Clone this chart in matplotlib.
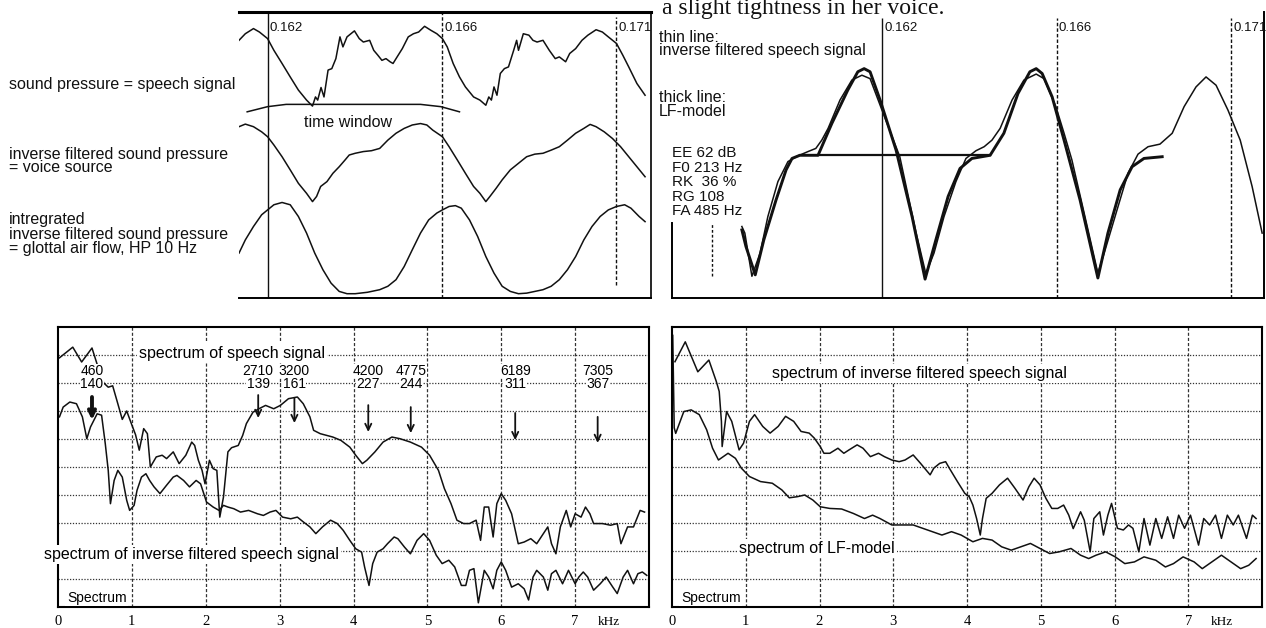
import matplotlib
matplotlib.use("Agg")
import matplotlib.pyplot as plt

# ---------------------------------------------------------------- data
# time markers (ms) and labels
period_marks = [161.7, 166.4, 171.1]
period_labels = ["0.162", "0.166", "0.171"]

# top-left: waveforms (time in ms, amplitude in arbitrary 0-100 units)
t_speech = [160.93, 161.10, 161.32, 161.48, 161.70, 161.87, 162.09, 162.31, 162.53, 162.75,
            162.91, 162.99, 163.05, 163.14, 163.22, 163.33, 163.43, 163.54, 163.65, 163.73,
            163.84, 164.04, 164.17, 164.28, 164.45, 164.56, 164.67, 164.78, 164.89, 165.00,
            165.08, 165.19, 165.33, 165.49, 165.63, 165.77, 165.93, 166.10, 166.26, 166.41,
            166.54, 166.70, 166.87, 167.03, 167.25, 167.42, 167.58, 167.66, 167.73, 167.80,
            167.88, 167.97, 168.08, 168.19, 168.33, 168.41, 168.46, 168.59, 168.74, 168.85,
            168.96, 169.12, 169.29, 169.45, 169.56, 169.73, 169.84, 170.00, 170.17, 170.33,
            170.55, 170.72, 170.88, 171.10, 171.27, 171.43, 171.65, 171.87]
a_speech = [90.1, 92.4, 94.2, 93.0, 90.7, 86.6, 82.0, 77.3, 72.7, 69.2,
            67.1, 70.3, 69.2, 73.6, 70.3, 79.7, 80.2, 83.7, 91.3, 87.8,
            91.3, 93.4, 90.7, 89.5, 90.1, 86.6, 84.9, 83.1, 83.7, 82.6,
            82.0, 84.3, 87.2, 91.3, 92.4, 93.0, 95.0, 93.6, 92.4, 90.7,
            87.8, 82.0, 77.3, 73.8, 70.3, 69.2, 67.4, 70.3, 69.2, 73.8,
            70.9, 78.5, 80.2, 80.8, 86.6, 90.1, 86.6, 92.4, 91.9, 90.1,
            89.5, 90.1, 86.6, 83.7, 84.3, 82.6, 85.5, 87.2, 90.1, 91.9,
            93.8, 93.0, 91.3, 89.0, 84.9, 80.8, 75.0, 70.9]

t_window = [161.15, 161.70, 162.20, 165.82, 166.37, 166.87]
a_window = [65.1, 66.9, 67.7, 67.7, 66.9, 65.1]

t_source = [160.93, 161.10, 161.32, 161.54, 161.70, 161.87, 162.09, 162.31, 162.53, 162.75,
            162.91, 163.02, 163.13, 163.30, 163.46, 163.63, 163.79, 163.90, 164.06, 164.28,
            164.50, 164.72, 164.94, 165.16, 165.38, 165.60, 165.82, 165.99, 166.15, 166.41,
            166.59, 166.81, 167.03, 167.25, 167.42, 167.58, 167.69, 167.86, 168.02, 168.24,
            168.46, 168.68, 168.90, 169.12, 169.34, 169.56, 169.78, 170.00, 170.22, 170.39,
            170.55, 170.77, 170.99, 171.21, 171.43, 171.65, 171.87]
a_source = [59.9, 60.8, 59.9, 58.1, 56.4, 53.5, 49.4, 44.8, 40.1, 36.6,
            33.7, 35.5, 39.0, 40.7, 43.6, 45.9, 48.3, 50.0, 50.6, 51.2,
            51.5, 52.3, 55.2, 57.6, 59.3, 60.5, 61.0, 60.5, 58.7, 56.4,
            52.9, 48.3, 43.6, 39.0, 36.6, 33.7, 35.5, 38.4, 41.3, 44.8,
            47.1, 49.4, 50.3, 50.6, 51.7, 52.9, 55.2, 57.6, 59.3, 60.7,
            59.9, 58.1, 55.8, 52.9, 49.4, 45.9, 42.4]

t_flow = [160.93, 161.10, 161.32, 161.54, 161.70, 161.87, 162.09, 162.31, 162.53, 162.75,
          162.97, 163.19, 163.41, 163.63, 163.84, 164.06, 164.39, 164.72, 164.94, 165.16,
          165.38, 165.60, 165.82, 166.04, 166.26, 166.41, 166.59, 166.76, 166.92, 167.14,
          167.36, 167.58, 167.80, 168.02, 168.24, 168.46, 168.68, 168.90, 169.12, 169.34,
          169.56, 169.78, 170.00, 170.22, 170.44, 170.66, 170.88, 171.10, 171.32, 171.49,
          171.71, 171.87]
a_flow = [15.7, 20.3, 25.0, 29.1, 30.8, 32.6, 33.4, 32.6, 28.5, 22.7,
          15.7, 9.9, 5.2, 2.3, 1.5, 1.5, 2.0, 2.9, 4.1, 6.4,
          11.0, 16.9, 22.7, 27.3, 29.7, 30.8, 32.0, 32.3, 31.4, 27.3,
          21.5, 14.5, 8.7, 4.1, 2.3, 1.5, 1.7, 2.3, 2.9, 4.1,
          6.4, 9.9, 14.5, 20.3, 25.0, 28.5, 30.8, 32.0, 32.6, 31.4,
          28.5, 26.7]

# top-right: inverse filtered signal (thin) and LF-model (thick)
t_inv = [157.93, 158.01, 158.20, 158.42, 158.63, 158.90, 159.17, 159.44, 159.71, 159.92,
         160.08, 160.25, 160.57, 160.89, 161.16, 161.38, 161.70, 162.18, 162.62, 162.88,
         163.10, 163.37, 163.69, 163.96, 164.23, 164.45, 164.66, 164.88, 165.20, 165.52,
         165.85, 166.06, 166.38, 166.60, 166.81, 167.14, 167.51, 167.68, 168.00, 168.32,
         168.59, 168.86, 169.18, 169.51, 169.83, 170.15, 170.42, 170.69, 171.01, 171.34,
         171.66, 171.93]
a_inv = [25.0, 22.7, 7.6, 15.7, 28.5, 40.7, 47.7, 49.7, 51.2, 52.3,
         55.2, 59.3, 69.2, 76.2, 77.9, 76.7, 65.7, 49.4, 22.7, 8.5,
         15.7, 28.5, 40.7, 48.8, 51.5, 52.9, 55.2, 59.3, 69.2, 76.2,
         78.3, 76.7, 66.9, 57.6, 48.3, 29.7, 8.7, 15.7, 29.7, 43.6,
         50.3, 52.9, 53.8, 57.6, 66.9, 73.8, 77.3, 74.4, 65.7, 55.2,
         39.0, 22.7]

t_lf = [157.93, 158.04, 158.29, 158.52, 158.85, 159.12, 159.28, 159.49, 159.98, 160.35,
        160.78, 161.05, 161.22, 161.38, 161.65, 162.08, 162.51, 162.86, 163.15, 163.48,
        163.80, 164.12, 164.61, 164.98, 165.36, 165.68, 165.85, 166.01, 166.28, 166.60,
        167.03, 167.51, 167.78, 168.11, 168.43, 168.75, 169.24]
a_lf = [23.8, 18.0, 8.1, 20.3, 34.3, 44.8, 48.8, 49.9, 49.9, 61.0,
        72.7, 79.1, 80.2, 79.1, 69.2, 51.7, 28.5, 6.6, 20.3, 35.5,
        45.3, 48.8, 49.9, 57.6, 71.5, 79.1, 80.2, 78.5, 70.3, 55.2,
        34.3, 7.0, 22.7, 37.8, 45.9, 48.8, 49.4]
t_lf_base = [159.98, 164.61]
a_lf_base = [49.9, 49.9]

lf_params = ["EE 62 dB", "F0 213 Hz", "RK  36 %", "RG 108", "FA 485 Hz"]

# bottom: spectra (frequency in kHz, level in grid units)
khz_ticks = [0, 1, 2, 3, 4, 5, 6, 7]
khz_labels = ["0", "1", "2", "3", "4", "5", "6", "7"]
grid_levels = [1, 2, 3, 4, 5, 6, 7, 8, 9]

f_speech = [0.02, 0.2, 0.32, 0.46, 0.55, 0.62, 0.68, 0.74, 0.8, 0.87, 0.93, 1.0, 1.05, 1.1,
            1.16, 1.21, 1.25, 1.33, 1.41, 1.47, 1.56, 1.64, 1.73, 1.81, 1.85, 1.9, 1.95, 1.99,
            2.05, 2.1, 2.15, 2.19, 2.24, 2.3, 2.35, 2.44, 2.5, 2.55, 2.64, 2.72, 2.81, 2.92,
            3.01, 3.12, 3.24, 3.32, 3.41, 3.46, 3.55, 3.72, 3.83, 3.95, 4.03, 4.12, 4.18, 4.29,
            4.4, 4.52, 4.63, 4.77, 4.92, 5.03, 5.15, 5.23, 5.32, 5.4, 5.49, 5.57, 5.66, 5.72,
            5.77, 5.83, 5.89, 5.94, 6.0, 6.06, 6.14, 6.23, 6.31, 6.4, 6.48, 6.57, 6.63, 6.68,
            6.74, 6.8, 6.88, 6.94, 7.0, 7.08, 7.14, 7.2, 7.25, 7.37, 7.48, 7.57, 7.62, 7.71,
            7.79, 7.88, 7.94]
l_speech = [8.9, 9.28, 8.75, 9.25, 8.5, 8.0, 7.85, 7.9, 7.35, 6.7, 7.0, 6.5, 6.15, 5.6,
            6.37, 6.19, 5.0, 5.36, 5.42, 5.3, 5.54, 5.12, 5.42, 5.89, 5.77, 5.24, 4.88, 4.4,
            5.24, 4.94, 4.88, 3.21, 3.93, 5.54, 5.69, 5.77, 6.13, 6.55, 6.96, 7.08, 7.2, 7.08,
            7.2, 7.44, 7.5, 7.26, 6.79, 6.31, 6.19, 6.07, 5.95, 5.71, 5.42, 5.12, 5.24, 5.54,
            5.89, 6.07, 6.01, 5.89, 5.71, 5.42, 4.88, 4.23, 3.69, 3.1, 2.98, 2.98, 3.1, 2.38,
            3.57, 3.57, 2.5, 3.69, 4.05, 3.81, 3.33, 2.26, 2.32, 2.44, 2.26, 2.62, 2.86, 2.26,
            1.9, 2.86, 3.45, 2.86, 3.33, 3.21, 3.57, 3.33, 2.98, 2.98, 2.92, 2.98, 2.26, 2.86,
            2.86, 3.45, 3.39]

f_invspec = [0.02, 0.07, 0.16, 0.25, 0.33, 0.39, 0.44, 0.53, 0.59, 0.64, 0.68, 0.71, 0.76,
             0.81, 0.87, 0.93, 0.97, 1.03, 1.07, 1.13, 1.19, 1.24, 1.3, 1.38, 1.47, 1.56,
             1.61, 1.7, 1.78, 1.87, 1.93, 2.01, 2.1, 2.18, 2.24, 2.3, 2.38, 2.47, 2.58, 2.7,
             2.78, 2.87, 2.95, 3.04, 3.15, 3.24, 3.32, 3.41, 3.49, 3.58, 3.69, 3.78, 3.86,
             3.95, 4.03, 4.11, 4.15, 4.21, 4.26, 4.32, 4.4, 4.46, 4.55, 4.6, 4.69, 4.77, 4.86,
             4.95, 5.03, 5.12, 5.2, 5.29, 5.37, 5.46, 5.52, 5.57, 5.63, 5.69, 5.77, 5.83,
             5.89, 5.94, 6.0, 6.06, 6.14, 6.23, 6.31, 6.37, 6.43, 6.48, 6.57, 6.63, 6.68,
             6.74, 6.83, 6.91, 7.0, 7.05, 7.11, 7.17, 7.25, 7.34, 7.42, 7.51, 7.57, 7.65,
             7.71, 7.79, 7.85, 7.91, 7.97]
l_invspec = [6.79, 7.14, 7.32, 7.26, 6.79, 6.01, 6.43, 6.9, 6.85, 5.83, 4.88, 3.69, 4.52,
             4.88, 4.64, 3.81, 3.45, 3.63, 4.17, 4.64, 4.76, 4.52, 4.29, 4.05, 4.35, 4.64,
             4.7, 4.52, 4.29, 4.52, 4.4, 3.75, 3.57, 3.45, 3.63, 3.57, 3.51, 3.39, 3.45, 3.33,
             3.27, 3.39, 3.45, 3.21, 3.15, 3.21, 3.04, 2.86, 2.62, 2.86, 3.1, 2.98, 2.74,
             2.38, 2.08, 1.96, 1.43, 0.77, 1.55, 1.96, 2.08, 2.26, 2.5, 2.44, 2.14, 1.9, 2.38,
             2.62, 2.38, 1.85, 1.55, 1.67, 1.43, 0.77, 0.77, 1.31, 1.37, 0.15, 1.31, 1.07,
             0.65, 1.31, 1.61, 1.31, 0.71, 0.83, 0.65, 0.25, 1.07, 1.31, 1.07, 0.6, 1.19,
             1.31, 0.83, 1.31, 0.83, 1.07, 1.25, 1.07, 0.6, 0.83, 1.07, 0.71, 0.48, 1.07,
             1.31, 0.83, 1.19, 1.25, 1.13]

f_inv_r = [0.04, 0.18, 0.35, 0.5, 0.6, 0.64, 0.67, 0.68, 0.74, 0.81, 0.91, 0.97, 1.05, 1.12,
           1.23, 1.33, 1.44, 1.54, 1.65, 1.75, 1.86, 1.93, 2.01, 2.06, 2.14, 2.25, 2.33, 2.4,
           2.51, 2.59, 2.69, 2.8, 2.88, 2.98, 3.08, 3.16, 3.27, 3.37, 3.5, 3.55, 3.63, 3.71,
           3.76, 3.87, 3.97, 4.03, 4.08, 4.13, 4.18, 4.21, 4.26, 4.34, 4.44, 4.55, 4.65,
           4.76, 4.84, 4.91, 4.99, 5.07, 5.15, 5.23, 5.31, 5.38, 5.44, 5.49, 5.54, 5.59,
           5.67, 5.72, 5.8, 5.85, 5.91, 5.96, 6.04, 6.12, 6.19, 6.25, 6.33, 6.4, 6.48, 6.56,
           6.64, 6.72, 6.8, 6.87, 6.95, 7.03, 7.14, 7.21, 7.29, 7.37, 7.45, 7.53, 7.61, 7.68,
           7.79, 7.87, 7.92]
l_inv_r = [8.76, 9.47, 8.4, 8.82, 8.06, 7.7, 6.63, 5.73, 6.98, 6.63, 5.61, 5.85, 6.63, 6.87,
           6.45, 6.21, 6.45, 6.81, 6.63, 6.27, 6.21, 6.03, 5.73, 5.49, 5.49, 5.67, 5.49, 5.61,
           5.79, 5.67, 5.37, 5.49, 5.37, 5.25, 5.19, 5.25, 5.43, 5.13, 4.72, 4.96, 5.13, 5.19,
           4.96, 4.48, 4.06, 3.94, 3.64, 3.16, 2.57, 3.16, 3.88, 4.06, 4.36, 4.6, 4.24,
           3.82, 4.3, 4.6, 4.36, 3.88, 3.52, 3.52, 3.64, 3.28, 2.8, 3.1, 3.4, 3.1,
           1.97, 3.16, 3.4, 2.57, 3.28, 3.7, 2.81, 2.75, 2.93, 2.81, 1.97, 3.16, 2.21, 3.16,
           2.45, 3.22, 2.45, 3.28, 2.81, 3.28, 2.21, 3.16, 2.93, 3.28, 2.45, 3.28, 2.93, 3.28,
           2.45, 3.28, 3.16]

f_lfspec = [0.01, 0.03, 0.05, 0.16, 0.26, 0.37, 0.47, 0.55, 0.63, 0.76, 0.86, 0.94, 1.05, 1.2,
            1.36, 1.49, 1.59, 1.7, 1.8, 1.91, 2.01, 2.14, 2.3, 2.46, 2.61, 2.72, 2.82, 2.98,
            3.11, 3.27, 3.4, 3.53, 3.66, 3.79, 3.92, 4.08, 4.21, 4.34, 4.47, 4.6, 4.73, 4.86,
            4.99, 5.12, 5.25, 5.41, 5.54, 5.65, 5.75, 5.88, 6.01, 6.14, 6.27, 6.4, 6.56, 6.69,
            6.8, 6.93, 7.08, 7.19, 7.32, 7.45, 7.58, 7.71, 7.82, 7.92]
l_lfspec = [9.7, 6.4, 6.2, 6.98, 7.04, 6.87, 6.33, 5.67, 5.25, 5.49, 5.31, 4.96, 4.66, 4.48,
            4.42, 4.18, 3.9, 3.94, 4.0, 3.82, 3.58, 3.52, 3.5, 3.34, 3.16, 3.28, 3.16, 2.93,
            2.93, 2.93, 2.81, 2.69, 2.57, 2.69, 2.57, 2.33, 2.45, 2.39, 2.15, 2.03, 2.15, 2.27,
            2.09, 1.91, 1.97, 2.09, 1.85, 1.73, 1.85, 1.97, 1.79, 1.55, 1.61, 1.79, 1.67, 1.43,
            1.55, 1.79, 1.61, 1.37, 1.61, 1.85, 1.61, 1.37, 1.49, 1.73]

formant_hz = [460, 2710, 3200, 4200, 4775, 6189, 7305]
bandwidth_hz = [140, 139, 161, 227, 244, 311, 367]
arrow_top = [7.5, 7.57, 7.46, 7.21, 7.14, 6.93, 6.79]
arrow_tip = [6.68, 6.75, 6.57, 6.25, 6.21, 5.96, 5.86]

# ---------------------------------------------------------------- figure
W, H = 1266, 628
SANS = "Liberation Sans"
SERIF = "Liberation Serif"
plt.rcParams["font.family"] = [SANS, "DejaVu Sans"]

fig = plt.figure(figsize=(W / 100, H / 100), dpi=100)


def px_axes(x0, y0, x1, y1):
    return fig.add_axes([x0 / W, 1 - y1 / H, (x1 - x0) / W, (y1 - y0) / H])


def ftext(px, py, s, **kw):
    fig.text(px / W, 1 - py / H, s, **kw)


LW = 1.1
INK = "#111111"

# header line of the page (sits at the very top)
ftext(662, 14, "a slight tightness in her voice.", family=SERIF, fontsize=17,
      va="baseline", ha="left", color=INK)

# ---------------------------------------------------------------- top-left
ax = px_axes(239, 12, 651, 298)
ax.set_xlim(160.93, 172.03)
ax.set_ylim(0, 100)
ax.set_xticks([]); ax.set_yticks([])
ax.spines["left"].set_visible(False)
ax.spines["top"].set_linewidth(2.2)
ax.spines["right"].set_linewidth(1.2)
ax.spines["bottom"].set_linewidth(1.4)
ax.plot(t_speech, a_speech, color=INK, lw=LW)
ax.plot(t_window, a_window, color=INK, lw=LW)
ax.plot(t_source, a_source, color=INK, lw=LW)
ax.plot(t_flow, a_flow, color=INK, lw=LW)
ax.vlines(period_marks[0], 0, 100, color=INK, lw=1.0)
ax.vlines(period_marks[1], 0, 100, color=INK, lw=1.0, linestyles=(0, (2.5, 1.5)))
ax.vlines(period_marks[2], 4.7, 98.3, color=INK, lw=1.0, linestyles=(0, (2.5, 1.5)))
for m, lab in zip(period_marks, period_labels):
    ax.text(m + 0.06, 94.5, lab, fontsize=9.5, va="center", ha="left", color=INK)
ax.text(162.68, 61.2, "time window", fontsize=11.5, va="center", ha="left", color=INK)

ftext(9, 85, "sound pressure = speech signal", fontsize=11.5, va="center", color=INK)
ftext(9, 154, "inverse filtered sound pressure", fontsize=11.5, va="center", color=INK)
ftext(9, 168, "= voice source", fontsize=11.5, va="center", color=INK)
ftext(9, 220, "intregrated", fontsize=11.5, va="center", color=INK)
ftext(9, 235, "inverse filtered sound pressure", fontsize=11.5, va="center", color=INK)
ftext(9, 249, "= glottal air flow, HP 10 Hz", fontsize=11.5, va="center", color=INK)

# ---------------------------------------------------------------- top-right
ax = px_axes(672, 12, 1264, 298)
ax.set_xlim(156.05, 171.98)
ax.set_ylim(0, 100)
ax.set_xticks([]); ax.set_yticks([])
ax.spines["top"].set_visible(False)
ax.spines["left"].set_bounds(0, 26.2)
for s in ("left", "right", "bottom"):
    ax.spines[s].set_linewidth(1.4)
ax.vlines(157.12, 7.6, 26.2, color=INK, lw=1.0, linestyles=(0, (2, 1.5)))
ax.vlines(period_marks[0], 0, 98, color=INK, lw=1.0)
ax.vlines(period_marks[1:], 0, 98, color=INK, lw=1.0, linestyles=(0, (2.5, 1.5)))
for m, lab in zip(period_marks, period_labels):
    ax.text(m + 0.06, 94.5, lab, fontsize=9.5, va="center", ha="left", color=INK)
ax.plot(t_inv, a_inv, color=INK, lw=1.1)
ax.plot(t_lf, a_lf, color=INK, lw=2.1)
ax.plot(t_lf_base, a_lf_base, color=INK, lw=1.6)

ftext(659, 37, "thin line:", fontsize=11.5, va="center", color=INK)
ftext(659, 51, "inverse filtered speech signal", fontsize=11.5, va="center", color=INK)
ftext(659, 98, "thick line:", fontsize=11.5, va="center", color=INK)
ftext(659, 112, "LF-model", fontsize=11.5, va="center", color=INK)
for i, s in enumerate(lf_params):
    ftext(672, 153 + 14.5 * i, s, fontsize=11, va="center", color=INK)


# ---------------------------------------------------------------- spectra
def spectrum_box(ax):
    ax.set_xlim(0, 8.0)
    ax.set_ylim(0, 10)
    for y in grid_levels:
        ax.axhline(y, color="#333333", lw=0.9, ls=(0, (1, 1.3)), zorder=1)
    for x in khz_ticks[1:]:
        ax.axvline(x, color="#333333", lw=0.9, ls=(0, (2.5, 1.6)), zorder=1)
    ax.set_yticks([])
    ax.set_xticks(khz_ticks)
    ax.set_xticklabels(khz_labels, family=SERIF, fontsize=10.5)
    ax.tick_params(axis="x", length=0, pad=6)
    for s in ax.spines.values():
        s.set_linewidth(1.5)
    ax.text(7.3, -0.55, "kHz", family=SERIF, fontsize=9.5, ha="left", va="center",
            clip_on=False)
    ax.text(0.12, 0.32, "Spectrum", fontsize=10, ha="left", va="center",
            bbox=dict(facecolor="white", edgecolor="none", pad=1))


WHITE = dict(facecolor="white", edgecolor="none", pad=1.5)

axl = px_axes(58, 327, 649, 607)
spectrum_box(axl)
axl.plot(f_speech, l_speech, color=INK, lw=LW, zorder=2)
axl.plot(f_invspec, l_invspec, color=INK, lw=LW, zorder=2)
axl.text(1.1, 9.07, "spectrum of speech signal", fontsize=11.5, va="center", ha="left",
         bbox=WHITE, zorder=4)
axl.text(-0.19, 1.86, "spectrum of inverse filtered speech signal", fontsize=11.5,
         va="center", ha="left", bbox=WHITE, zorder=4)
for i, (f, b, y0, y1) in enumerate(zip(formant_hz, bandwidth_hz, arrow_top, arrow_tip)):
    x = f / 1000.0
    axl.text(x, 8.43, str(f), fontsize=10, ha="center", va="center",
             bbox=dict(facecolor="white", edgecolor="none", pad=0.3), zorder=4)
    axl.text(x, 7.98, str(b), fontsize=10, ha="center", va="center",
             bbox=dict(facecolor="white", edgecolor="none", pad=0.3), zorder=4)
    lw = 2.8 if i == 0 else 1.3
    axl.annotate("", xy=(x, y1), xytext=(x, y0),
                 arrowprops=dict(arrowstyle="->,head_length=0.45,head_width=0.22",
                                 lw=lw, color=INK, shrinkA=0, shrinkB=0), zorder=5)

axr = px_axes(672, 327, 1262, 607)
spectrum_box(axr)
axr.plot(f_inv_r, l_inv_r, color=INK, lw=LW, zorder=2)
axr.plot(f_lfspec, l_lfspec, color=INK, lw=LW, zorder=2)
axr.text(1.36, 8.35, "spectrum of inverse filtered speech signal", fontsize=11.5,
         va="center", ha="left", bbox=WHITE, zorder=4)
axr.text(0.91, 2.1, "spectrum of LF-model", fontsize=11.5, va="center", ha="left",
         bbox=WHITE, zorder=4)

fig.savefig("out.png", dpi=100)
